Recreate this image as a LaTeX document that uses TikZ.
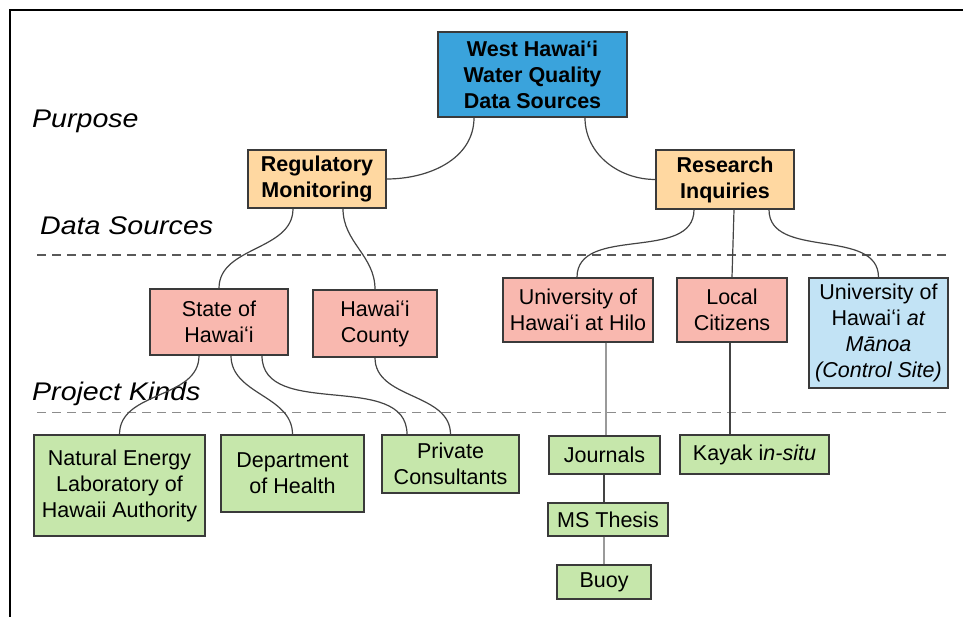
\documentclass[tikz,border=0pt]{standalone}
\usepackage{fontspec}
\setmainfont{Liberation Sans}
\definecolor{topblue}{HTML}{3AA3DC}
\definecolor{ochre}{HTML}{FFD8A1}
\definecolor{salmon}{HTML}{F9B8AF}
\definecolor{paleblue}{HTML}{C2E3F5}
\definecolor{palegreen}{HTML}{C6E7AB}
\definecolor{boxline}{HTML}{3A3A3A}
\definecolor{connline}{HTML}{444444}
\definecolor{lightconn}{HTML}{9A9A9A}
\tikzset{
  box/.style={draw=boxline, line width=1.3pt, inner sep=0pt, align=center,
    font=\fontsize{21.5}{26}\selectfont},
  topbox/.style={box, fill=topblue, font=\fontsize{21.5}{26}\selectfont\bfseries},
  purposebox/.style={box, fill=ochre, font=\fontsize{21.5}{26}\selectfont\bfseries},
  sourcebox/.style={box, fill=salmon},
  controlbox/.style={box, fill=paleblue},
  kindbox/.style={box, fill=palegreen},
  conn/.style={draw=connline, line width=1.2pt},
  lightlink/.style={draw=lightconn, line width=1.2pt},
  tierlabel/.style={anchor=west, inner sep=0pt, font=\fontsize{25.5}{30}\selectfont\itshape},
  tierrule/.style={line width=1.3pt, dash pattern=on 9pt off 6pt},
}
\newcommand{\wide}[1]{\scalebox{1.12}[1]{#1}}
\begin{document}
\begin{tikzpicture}[x=1pt,y=-1pt]
\useasboundingbox (0,0) rectangle (963,617);
% frame
\draw[line width=2pt, black] (963,10) -- (10,10) -- (10,617);
% tier labels
\node[tierlabel] (lpurpose) at (32,121) {\wide{Purpose}};
\node[tierlabel] (lsources) at (40,226) {\wide{Data Sources}};
\node[tierlabel] (lkinds) at (32,394) {\wide{Project Kinds}};
% tier rules
\coordinate (r1a) at (37,255); \coordinate (r1b) at (946,255);
\coordinate (r2a) at (37,412.5); \coordinate (r2b) at (948,412.5);
\draw[tierrule, draw=black!65] (r1a) -- (r1b);
\draw[tierrule, draw=black!45] (r2a) -- (r2b);
% nodes
\node[topbox, minimum width=189pt, minimum height=85pt] (top) at (532.5,74.5) {West Hawaiʻi\\Water Quality\\Data Sources};
\node[purposebox, minimum width=138pt, minimum height=58pt] (reg) at (317,179) {Regulatory\\Monitoring};
\node[purposebox, minimum width=138pt, minimum height=59pt] (res) at (725,179.5) {Research\\Inquiries};
\node[sourcebox, minimum width=138pt, minimum height=66pt] (state) at (219,322) {State of\\Hawaiʻi};
\node[sourcebox, minimum width=124pt, minimum height=67pt] (county) at (375,323.5) {Hawaiʻi\\County};
\node[sourcebox, minimum width=150pt, minimum height=64pt] (hilo) at (578,310) {University of\\Hawaiʻi at Hilo};
\node[sourcebox, minimum width=110pt, minimum height=64pt] (local) at (732,310) {Local\\Citizens};
\node[controlbox, minimum width=139pt, minimum height=110pt] (manoa) at (878.5,333) {University of\\Hawaiʻi \textit{at}\\\textit{Mānoa}\\\textit{(Control Site)}};
\node[kindbox, minimum width=171pt, minimum height=101pt] (nelha) at (119.5,485.5) {Natural Energy\\Laboratory of\\Hawaii Authority};
\node[kindbox, minimum width=143pt, minimum height=77pt] (doh) at (292.5,473.5) {Department\\of Health};
\node[kindbox, minimum width=137pt, minimum height=58pt] (priv) at (450.5,464) {Private\\Consultants};
\node[kindbox, minimum width=111pt, minimum height=38pt] (journals) at (604.5,455) {Journals};
\node[kindbox, minimum width=149pt, minimum height=39pt] (kayak) at (754.5,454.5) {Kayak i\textit{n-situ}};
\node[kindbox, minimum width=120pt, minimum height=33pt] (ms) at (608,519.5) {MS Thesis};
\node[kindbox, minimum width=94pt, minimum height=34pt] (buoy) at (604,582) {Buoy};
% connectors
\draw[conn] ([xshift=-58.5pt]top.south) to[out=-90,in=0] (reg.east);
\draw[conn] ([xshift=52.5pt]top.south) to[out=-90,in=180] (res.west);
\draw[conn] ([xshift=-24pt]reg.south) to[out=-90,in=90] (state.north);
\draw[conn] ([xshift=26pt]reg.south) to[out=-90,in=90] (county.north);
\draw[conn] ([xshift=-31pt]res.south) to[out=-90,in=90] ([xshift=-1pt]hilo.north);
\draw[conn] ([xshift=9pt]res.south) -- (local.north);
\draw[conn] ([xshift=44pt]res.south) to[out=-90,in=90] (manoa.north);
\draw[conn] ([xshift=-20pt]state.south) to[out=-90,in=90] (nelha.north);
\draw[conn] ([xshift=12pt]state.south) to[out=-90,in=90] (doh.north);
\draw[conn] ([xshift=43pt]state.south) to[out=-90,in=90] ([xshift=-43.5pt]priv.north);
\draw[conn] (county.south) to[out=-90,in=90] (priv.north);
\draw[lightlink] ([xshift=28pt]hilo.south) -- ([xshift=1.5pt]journals.north);
\draw[conn] ([xshift=-2pt]local.south) -- ([xshift=-24.5pt]kayak.north);
\draw[conn] ([xshift=-0.5pt]journals.south) -- ([xshift=-4pt]ms.north);
\draw[lightlink] ([xshift=-4pt]ms.south) -- (buoy.north);
\end{tikzpicture}
\end{document}
